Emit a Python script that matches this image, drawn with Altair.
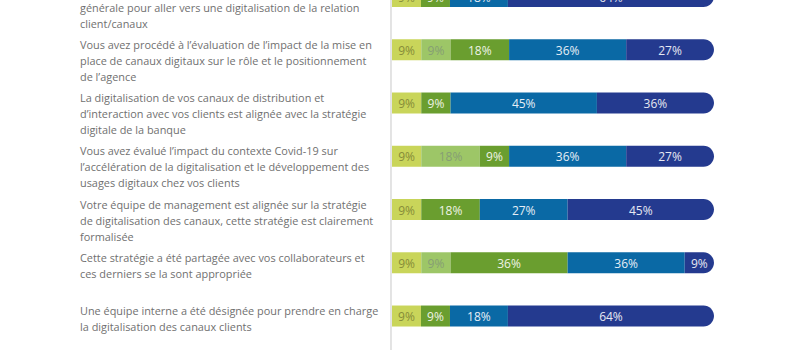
import altair as alt
import pandas as pd

questions = [
    "Vous avez défini une stratégie\ngénérale pour aller vers une digitalisation de la relation\nclient/canaux",
    "Vous avez procédé à l’évaluation de l’impact de la mise en\nplace de canaux digitaux sur le rôle et le positionnement\nde l’agence",
    "La digitalisation de vos canaux de distribution et\nd’interaction avec vos clients est alignée avec la stratégie\ndigitale de la banque",
    "Vous avez évalué l’impact du contexte Covid-19 sur\nl’accélération de la digitalisation et le développement des\nusages digitaux chez vos clients",
    "Votre équipe de management est alignée sur la stratégie\nde digitalisation des canaux, cette stratégie est clairement\nformalisée",
    "Cette stratégie a été partagée avec vos collaborateurs et\nces derniers se la sont appropriée",
    "Une équipe interne a été désignée pour prendre en charge\nla digitalisation des canaux clients",
]
series = ["Réponse 1", "Réponse 2", "Réponse 3", "Réponse 4", "Réponse 5"]
s1 = [9, 9, 9, 9, 9, 9, 9]
s2 = [0, 9, 0, 18, 0, 9, 0]
s3 = [9, 18, 9, 9, 18, 36, 9]
s4 = [18, 36, 45, 36, 27, 36, 18]
s5 = [64, 27, 36, 27, 45, 9, 64]

bar_colors = ["#c9d55a", "#9dc667", "#6a9e2f", "#0a69a5", "#243a8f"]
txt_colors = ["#868c38", "#869e74", "#eef3e6", "#e6eef6", "#e6e8f2"]

rows = []
for i, q in enumerate(questions):
    for k, vals in enumerate([s1, s2, s3, s4, s5]):
        if vals[i] > 0:
            rows.append({"row": i, "series": series[k], "order": k, "value": vals[i]})
df = pd.DataFrame(rows)
qdf = pd.DataFrame({"row": list(range(len(questions))), "q": questions})

yscale = alt.Scale(domain=[0.0657, 6.638], reverse=True, nice=False, zero=False, padding=0)
xscale = alt.Scale(domain=[-1.2174, 1.2671], nice=False, zero=False, padding=0)
cscale = alt.Scale(domain=series, range=bar_colors)
tscale = alt.Scale(domain=series, range=txt_colors)

base = alt.Chart(df).transform_stack(
    stack="value", groupby=["row"], as_=["x0", "x1"], offset="normalize",
    sort=[alt.SortField("order", order="ascending")]
).transform_calculate(mid="(datum.x0 + datum.x1) / 2", lbl="datum.value + '%'")

ycommon = alt.Y("row:Q", scale=yscale, axis=None)

bars = base.transform_filter("datum.order < 4").mark_bar(size=21, clip=True).encode(
    x=alt.X("x0:Q", scale=xscale, axis=None),
    x2="x1:Q",
    y=ycommon,
    color=alt.Color("series:N", scale=cscale, legend=None),
)
last = base.transform_filter("datum.order == 4").mark_bar(
    size=21, clip=True, cornerRadiusTopRight=10.5, cornerRadiusBottomRight=10.5
).encode(
    x=alt.X("x0:Q", scale=xscale, axis=None),
    x2="x1:Q",
    y=ycommon,
    color=alt.Color("series:N", scale=cscale, legend=None),
)
pct = base.mark_text(font="Open Sans", fontSize=12, clip=True, baseline="middle", dy=1).encode(
    x=alt.X("mid:Q", scale=xscale, axis=None),
    y=ycommon,
    text="lbl:N",
    color=alt.Color("series:N", scale=tscale, legend=None),
)
labels = alt.Chart(qdf).mark_text(
    font="Open Sans", fontSize=10.9, color="#707070", align="left", baseline="top",
    lineBreak="\n", lineHeight=16, dy=-10, clip=True
).encode(x=alt.value(80), y=ycommon, text="q:N")

axis_line = alt.Chart(qdf).mark_rule(color="#e3e3e3", strokeWidth=1).encode(
    x=alt.value(391), y=alt.value(0), y2=alt.value(350)
)

chart = alt.layer(axis_line, bars, last, pct, labels).resolve_scale(color="independent").properties(
    width=800, height=350, padding=0, autosize=alt.AutoSizeParams(type="none")
).configure_view(strokeWidth=0)

chart.save("out.html", embed_options={"renderer": "svg", "actions": False})
